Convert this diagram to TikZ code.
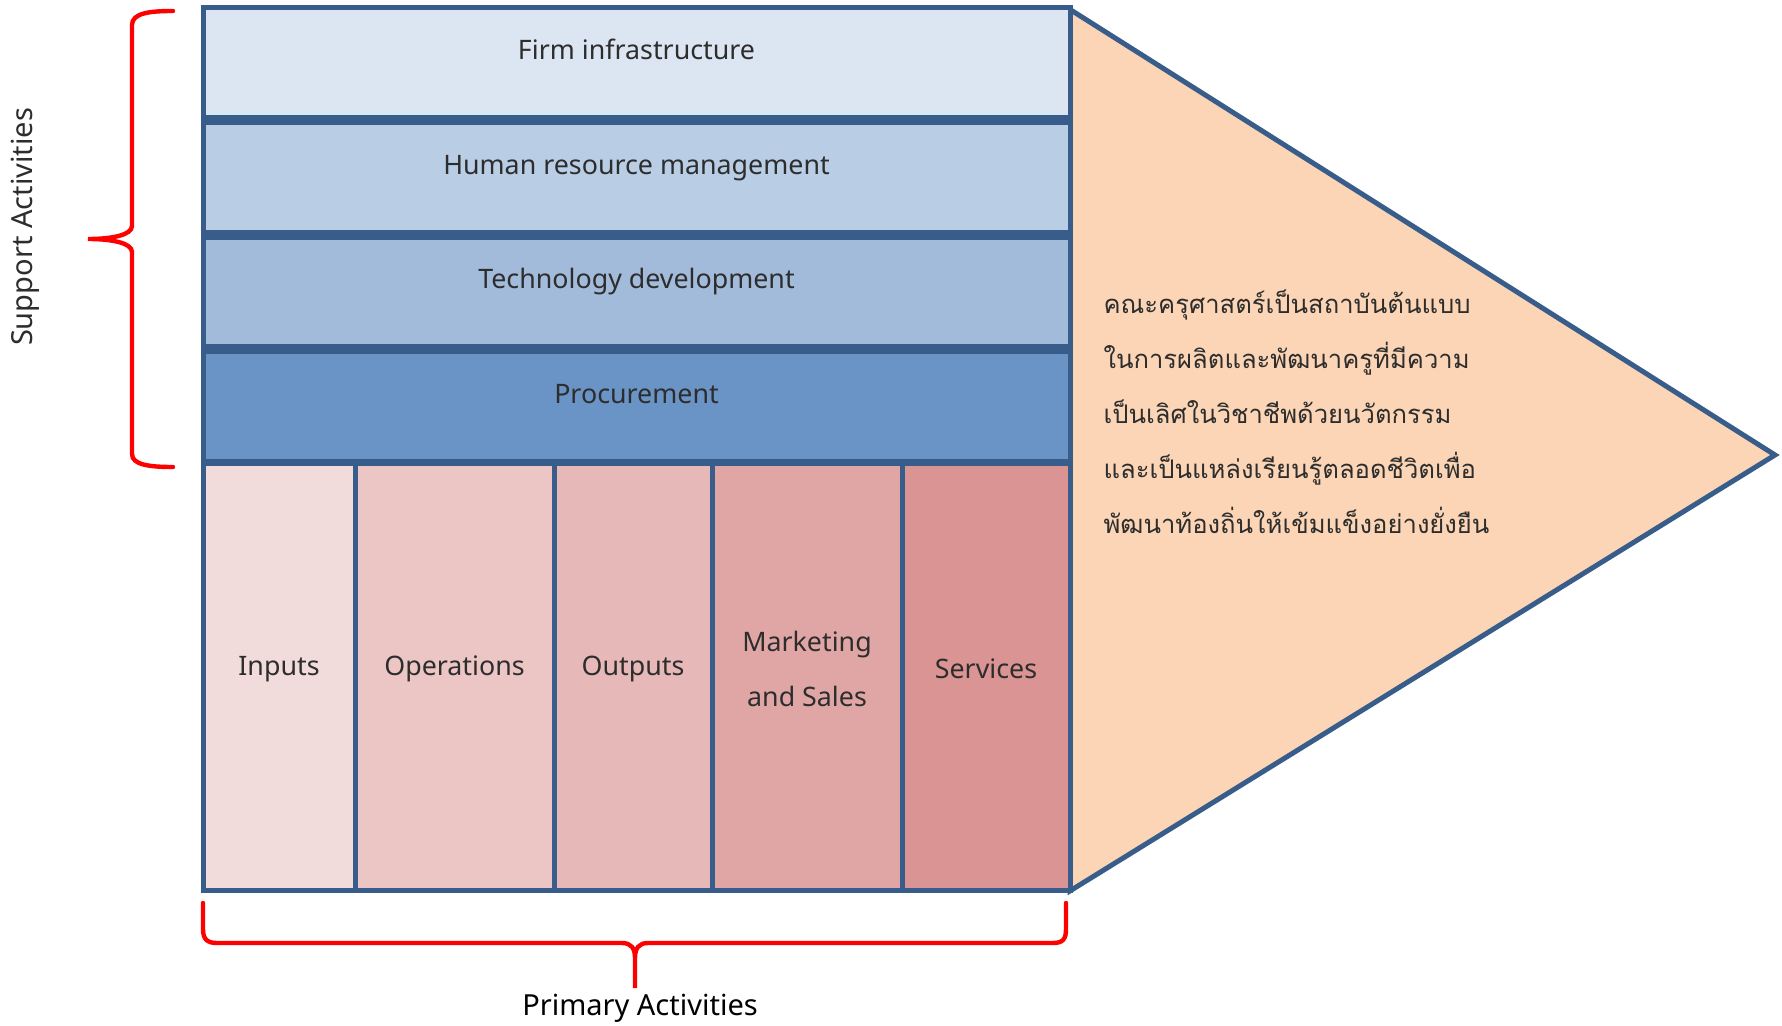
\documentclass[tikz,border=0pt]{standalone}
\usepackage{fontspec}
\setmainfont{Noto Sans}
\newfontfamily\thaifont[Script=Thai]{Loma}
\usetikzlibrary{positioning,backgrounds}
\definecolor{vcborder}{RGB}{56,93,138}
\definecolor{vctext}{RGB}{45,45,45}
\definecolor{firmfill}{RGB}{220,230,242}
\definecolor{hrfill}{RGB}{185,205,229}
\definecolor{techfill}{RGB}{162,187,219}
\definecolor{procfill}{RGB}{106,148,197}
\definecolor{inputsfill}{RGB}{242,220,219}
\definecolor{opsfill}{RGB}{236,198,197}
\definecolor{outputsfill}{RGB}{230,184,183}
\definecolor{marketfill}{RGB}{224,166,165}
\definecolor{servfill}{RGB}{217,148,147}
\definecolor{marginfill}{RGB}{251,213,181}

\begin{document}
\begin{tikzpicture}[x=0.5pt,y=-0.5pt,
        boxtext/.style={text=vctext,font=\fontsize{13.4}{27.5}\selectfont,align=center},
        sidetext/.style={text=vctext,font=\fontsize{14.5}{17}\selectfont},
        supbox/.style={draw=vcborder,line width=2.5pt,minimum width=433.5pt,minimum height=54.8pt,inner sep=0pt,
          label={[boxtext,anchor=base,yshift=-27pt]north:#1}},
        primbox/.style={draw=vcborder,line width=2.5pt,minimum height=213.5pt,inner sep=0pt,outer sep=0pt,
          label={[boxtext,anchor=base,yshift=4.25pt]center:#1}},
        bracket/.style={draw=red,line width=2.2pt,line cap=round},
        ]
        \useasboundingbox (0,0) rectangle (1782,1026);
        % support activities
        \node[supbox=Firm infrastructure,fill=firmfill,anchor=north] (firm) at (636.5,5.5) {};
        \node[supbox=Human resource management,fill=hrfill,below=0pt of firm] (hr) {};
        \node[supbox=Technology development,fill=techfill,below=0pt of hr] (tech) {};
        \node[supbox=Procurement,fill=procfill,below=0pt of tech] (proc) {};
        % primary activities
        \node[primbox=Inputs,fill=inputsfill,minimum width=76pt,anchor=north west] (inputs) at ([xshift=1.25pt]proc.south west) {};
        \node[primbox=Operations,fill=opsfill,minimum width=99.5pt,right=0pt of inputs] (ops) {};
        \node[primbox=Outputs,fill=outputsfill,minimum width=79pt,right=0pt of ops] (outputs) {};
        \node[primbox={Marketing\\and Sales},fill=marketfill,minimum width=95pt,right=0pt of outputs] (market) {};
        \node[primbox=Services,fill=servfill,minimum width=84pt,right=0pt of market] (serv) {};
        % margin
        \coordinate (tip) at (1775,455);
        \begin{scope}[on background layer]
          \draw[vcborder,fill=marginfill,line width=2.5pt] ([shift={(-1.25pt,-2pt)}]firm.north east) -- (tip) -- (serv.south east) -- cycle;
        \end{scope}
        \node[anchor=north west,align=left,text=vctext,font=\thaifont\fontsize{12.8}{27.5}\selectfont] (vision) at (1096.5,283)
          {คณะครุศาสตร์เป็นสถาบันต้นแบบ\\ในการผลิตและพัฒนาครูที่มีความ\\เป็นเลิศในวิชาชีพด้วยนวัตกรรม\\และเป็นแหล่งเรียนรู้ตลอดชีวิตเพื่อ\\พัฒนาท้องถิ่นให้เข้มแข็งอย่างยั่งยืน};
        % braces
        \draw[bracket] (173,11) .. controls (150,11) and (132,13) .. (132,25) -- (132,226)
          .. controls (132,235) and (112,239) .. (88,239) .. controls (112,239) and (132,243) .. (132,252)
          -- (132,454) .. controls (132,465) and (150,467) .. (173,467);
        \draw[bracket] (203,903) -- (203,929) .. controls (203,939) and (207,943) .. (217,943) -- (622,943)
          .. controls (631,943) and (635,948) .. (635,958) -- (635,988) -- (635,958)
          .. controls (635,948) and (639,943) .. (648,943) -- (1053,943) .. controls (1063,943) and (1066,939) .. (1066,929) -- (1066,903);
        \node[rotate=90,sidetext] (support) at (25,227) {Support Activities};
        \node[sidetext,text=black] (primary) at (640,1008) {Primary Activities};
      \end{tikzpicture}
\end{document}
